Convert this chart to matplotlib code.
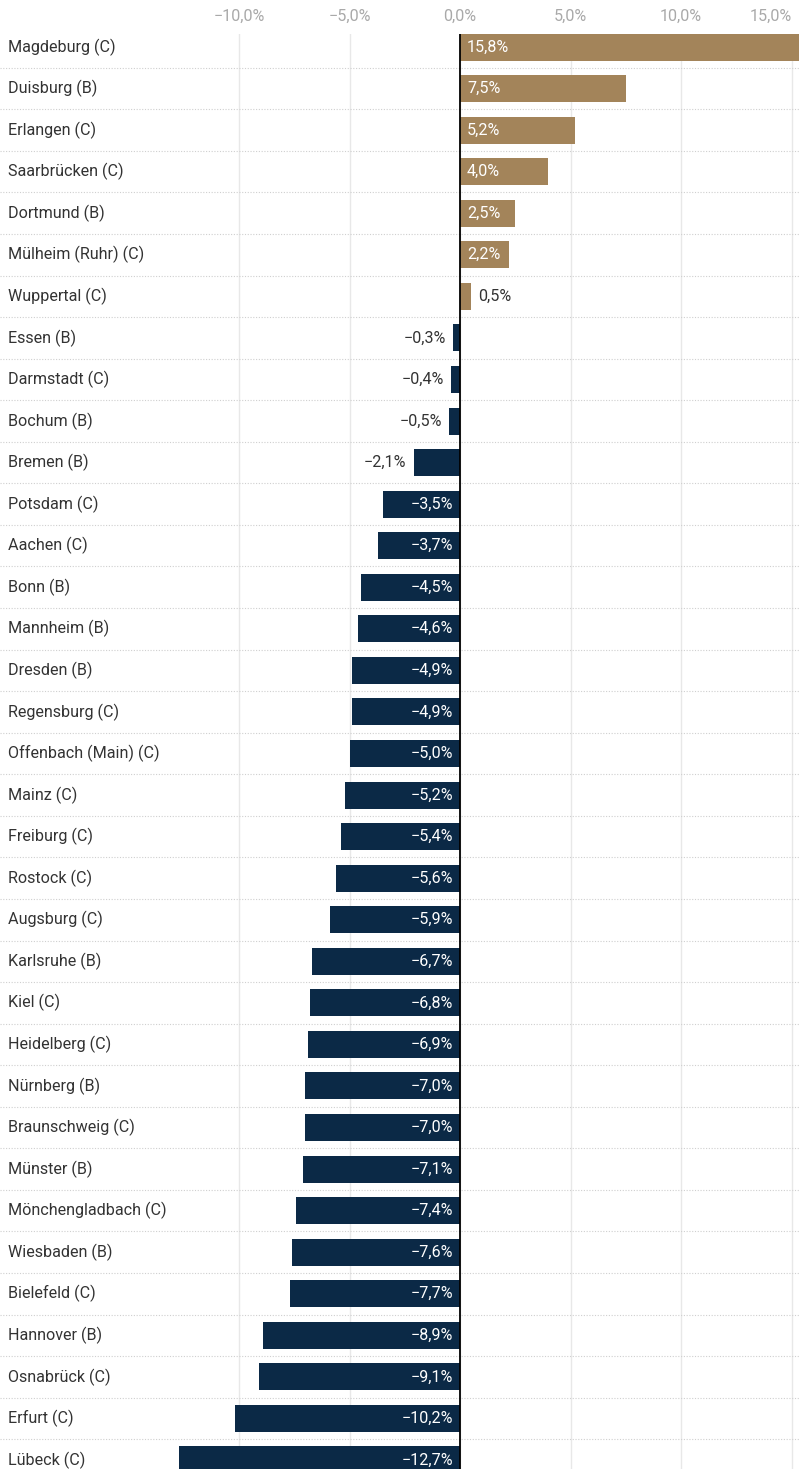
import matplotlib
matplotlib.use("Agg")
import matplotlib.pyplot as plt
from matplotlib.transforms import blended_transform_factory

plt.rcParams['font.family'] = ['Roboto', 'DejaVu Sans']

cities = ["Magdeburg (C)", "Duisburg (B)", "Erlangen (C)", "Saarbrücken (C)", "Dortmund (B)",
          "Mülheim (Ruhr) (C)", "Wuppertal (C)", "Essen (B)", "Darmstadt (C)", "Bochum (B)",
          "Bremen (B)", "Potsdam (C)", "Aachen (C)", "Bonn (B)", "Mannheim (B)", "Dresden (B)",
          "Regensburg (C)", "Offenbach (Main) (C)", "Mainz (C)", "Freiburg (C)", "Rostock (C)",
          "Augsburg (C)", "Karlsruhe (B)", "Kiel (C)", "Heidelberg (C)", "Nürnberg (B)",
          "Braunschweig (C)", "Münster (B)", "Mönchengladbach (C)", "Wiesbaden (B)",
          "Bielefeld (C)", "Hannover (B)", "Osnabrück (C)", "Erfurt (C)", "Lübeck (C)"]
values = [15.8, 7.5, 5.2, 4.0, 2.5, 2.2, 0.5, -0.3, -0.4, -0.5, -2.1, -3.5, -3.7, -4.5, -4.6,
          -4.9, -4.9, -5.0, -5.2, -5.4, -5.6, -5.9, -6.7, -6.8, -6.9, -7.0, -7.0, -7.1, -7.4,
          -7.6, -7.7, -8.9, -9.1, -10.2, -12.7]
ticks = [-10, -5, 0, 5, 10, 15]
tick_labels = ["−10,0%", "−5,0%", "0,0%", "5,0%", "10,0%", "15,0%"]

POS = "#a3845a"
NEG = "#0b2946"
FS = 11.6

W, H = 799, 1469
fig = plt.figure(figsize=(W / 100, H / 100), dpi=100)
ax = fig.add_axes([0, 0, 1, (1469 - 33.5) / H])

ppx = 22.1
ax.set_xlim(-460 / ppx, (799 - 460) / ppx)
n = len(cities)
ax.set_ylim(n - 1 + 9 / 41.56, -0.325)

ys = list(range(n))
colors = [POS if v >= 0 else NEG for v in values]
ax.barh(ys, values, height=0.65, color=colors, zorder=2)

# grid
for t in ticks:
    ax.axvline(t, color="#e8e8e8", lw=1.0, zorder=0)
for i in range(n - 1):
    ax.axhline(i + 0.5, color="#cfcfcf", lw=0.8, ls=(0, (1, 1.5)), zorder=0)
ax.axvline(0, color="black", lw=1.3, zorder=3)

for s in ax.spines.values():
    s.set_visible(False)
ax.set_yticks([])
ax.xaxis.tick_top()
ax.set_xticks(ticks)
ax.set_xticklabels(tick_labels, color="#a9a9a9", fontsize=FS)
ax.tick_params(axis="x", length=0, pad=7)
# last tick label is shifted left so it fits inside the figure
lbls = ax.get_xticklabels()
lbls[-1].set_horizontalalignment("right")

tr = blended_transform_factory(ax.transAxes, ax.transData)
for y, c in zip(ys, cities):
    ax.text(8 / W, y, c, transform=tr, ha="left", va="center", fontsize=FS, color="#333333")

def fmt(v):
    s = f"{abs(v):.1f}".replace(".", ",") + "%"
    return ("−" + s) if v < 0 else s

for y, v in zip(ys, values):
    inside = abs(v) >= 2.2
    if v >= 0:
        if inside:
            ax.annotate(fmt(v), (0, y), xytext=(5, 0), textcoords="offset points",
                        ha="left", va="center", color="white", fontsize=FS, zorder=4)
        else:
            ax.annotate(fmt(v), (v, y), xytext=(5, 0), textcoords="offset points",
                        ha="left", va="center", color="#333333", fontsize=FS, zorder=4)
    else:
        if inside:
            ax.annotate(fmt(v), (0, y), xytext=(-5, 0), textcoords="offset points",
                        ha="right", va="center", color="white", fontsize=FS, zorder=4)
        else:
            ax.annotate(fmt(v), (v, y), xytext=(-5, 0), textcoords="offset points",
                        ha="right", va="center", color="#333333", fontsize=FS, zorder=4)

fig.savefig("out.png", dpi=100)
